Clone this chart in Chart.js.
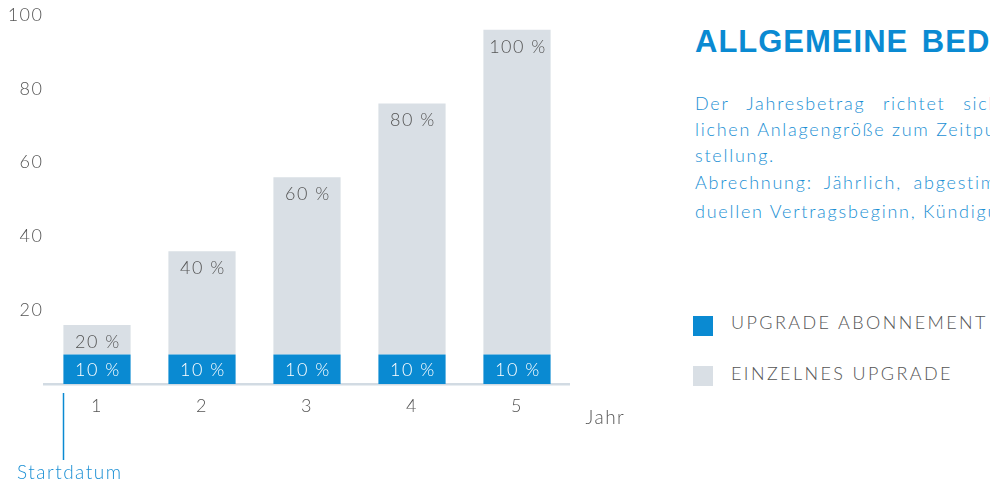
<!DOCTYPE html>
<html><head><meta charset="utf-8">
<script src="https://cdn.jsdelivr.net/npm/chart.js@4.4.1/dist/chart.umd.min.js"></script>
<style>
body{margin:0;width:990px;height:484px;overflow:hidden;background:#fff;position:relative;font-family:Lato,sans-serif}
#wrap{position:absolute;left:0;top:0;width:660px;height:484px}
.t{position:absolute;white-space:nowrap;color:#1a8fd4;font-family:Lato,sans-serif;font-weight:300;font-size:18px;line-height:20px;letter-spacing:1.75px}
.lg{position:absolute;white-space:nowrap;color:#555;font-family:Lato,sans-serif;font-weight:300;font-size:18px;line-height:20px;letter-spacing:2.4px}
.sq{position:absolute;width:20px;height:20px}
</style></head><body>
<div id="wrap"><canvas id="c" width="660" height="484"></canvas></div>
<div class="t" style="left:695px;top:24px;font-family:'Liberation Sans',Arial,sans-serif;font-weight:bold;font-size:31px;line-height:36px;letter-spacing:1px;word-spacing:4px;color:#0a8ad2">ALLGEMEINE BEDINGUNGEN</div>
<div class="t" style="left:695px;top:93px;word-spacing:11px">Der Jahresbetrag richtet sich nach der tatsäch-</div>
<div class="t" style="left:695px;top:119px">lichen Anlagengröße zum Zeitpunkt der Be-</div>
<div class="t" style="left:695px;top:145px">stellung.</div>
<div class="t" style="left:695px;top:172px;word-spacing:5px">Abrechnung: Jährlich, abgestimmt auf den indivi-</div>
<div class="t" style="left:695px;top:201px">duellen Vertragsbeginn, Kündigung jederzeit.</div>
<div class="sq" style="left:693px;top:316px;background:#0a8ad2"></div>
<div class="lg" style="left:731px;top:312px">UPGRADE ABONNEMENT</div>
<div class="sq" style="left:693px;top:366px;background:#d9dfe5"></div>
<div class="lg" style="left:731px;top:363px">EINZELNES UPGRADE</div>
<script>
const categories = ["1","2","3","4","5"];
const aboValues = [8,8,8,8,8];
const einzelValues = [8,28,48,68,88];
const aboLabels = ["10 %","10 %","10 %","10 %","10 %"];
const einzelLabels = ["20 %","40 %","60 %","80 %","100 %"];
const yTicks = [20,40,60,80,100];

const BLUE = '#0a8ad2', GRAY = '#d9dfe5', TXT = '#555555';
const FONT = "300 18px Lato, sans-serif";
const FONT_BIG = "300 19px Lato, sans-serif";

const spacingPlugin = {
  id:'spacing',
  beforeDraw(chart){ chart.ctx.letterSpacing = '1.5px'; },
  afterDraw(chart){ chart.ctx.letterSpacing = '0px'; }
};

const labelPlugin = {
  id:'labels',
  afterDatasetsDraw(chart){
    const ctx = chart.ctx;
    ctx.save();
    ctx.font = FONT;
    ctx.textAlign = 'center';
    ctx.textBaseline = 'middle';
    chart.getDatasetMeta(0).data.forEach((el,i)=>{
      ctx.fillStyle = '#ffffff';
      ctx.fillText(aboLabels[i], el.x+1, (el.y+el.base)/2+1);
    });
    chart.getDatasetMeta(1).data.forEach((el,i)=>{
      ctx.fillStyle = TXT;
      ctx.fillText(einzelLabels[i], el.x+1, el.y+17);
    });
    ctx.font = FONT_BIG;
    ctx.textAlign = 'left';
    ctx.fillStyle = TXT;
    ctx.fillText('Jahr', chart.chartArea.right+16, chart.chartArea.bottom+34);
    const first = chart.getDatasetMeta(0).data[0];
    const lx = Math.round(first.x - first.width/2)+0.5;
    ctx.strokeStyle = BLUE;
    ctx.lineWidth = 1.5;
    ctx.beginPath();
    ctx.moveTo(lx, chart.chartArea.bottom+9);
    ctx.lineTo(lx, 460);
    ctx.stroke();
    ctx.fillStyle = '#1a8fd4';
    ctx.fillText('Startdatum', 17, 473);
    ctx.restore();
  }
};

new Chart(document.getElementById('c'), {
  type:'bar',
  data:{
    labels: categories,
    datasets:[
      {label:'UPGRADE ABONNEMENT', data: aboValues, backgroundColor: BLUE, borderWidth:0},
      {label:'EINZELNES UPGRADE', data: einzelValues, backgroundColor: GRAY, borderWidth:0}
    ]
  },
  options:{
    responsive:false,
    animation:false,
    layout:{padding:{left:0,right:90.5,top:15,bottom:0}},
    datasets:{bar:{barPercentage:0.64,categoryPercentage:1}},
    plugins:{legend:{display:false},tooltip:{enabled:false}},
    scales:{
      x:{
        stacked:true,
        grid:{display:false,drawTicks:false},
        border:{display:true,color:'#d2dbe3',width:2.5},
        ticks:{color:TXT,font:{family:'Lato',weight:'300',size:18},padding:11},
        afterFit(s){ s.height = 100; }
      },
      y:{
        stacked:true,
        min:0,max:100,
        afterBuildTicks(s){ s.ticks = yTicks.map(v=>({value:v})); },
        grid:{display:false,drawTicks:false},
        border:{display:false},
        ticks:{color:TXT,font:{family:'Lato',weight:'300',size:18},padding:1},
        afterFit(s){ s.width = 44.5; }
      }
    }
  },
  plugins:[spacingPlugin,labelPlugin]
});
</script>
</body></html>
